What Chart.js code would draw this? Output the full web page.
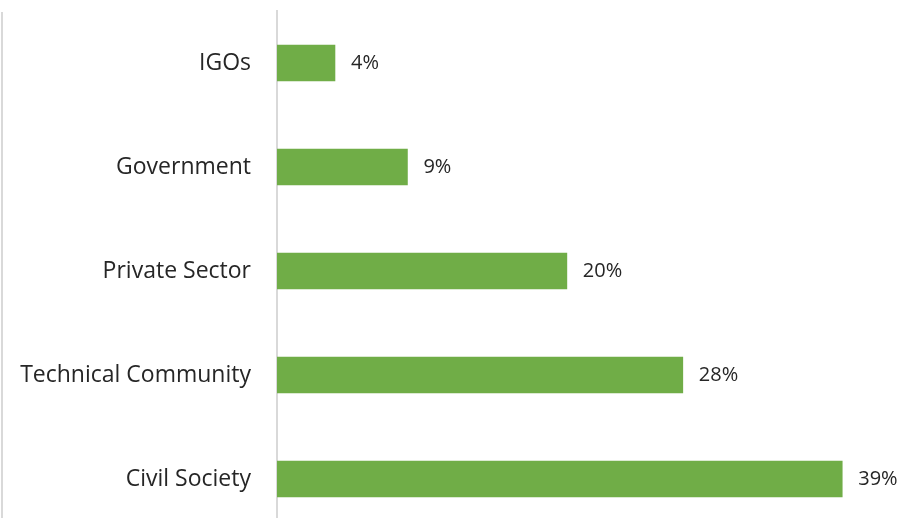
<!DOCTYPE html>
<html>
<head>
<meta charset="utf-8">
<script src="https://cdn.jsdelivr.net/npm/chart.js@4.4.1/dist/chart.umd.min.js"></script>
<style>
  html, body { margin: 0; padding: 0; background: #fff; overflow: hidden; }
  #wrap { position: relative; width: 906px; height: 540px; }
  #edge { position: absolute; left: 1px; top: 12px; width: 2px; height: 530px; background: #d9d9d9; }
</style>
</head>
<body>
<div id="wrap">
  <div id="edge"></div>
  <canvas id="myBars" width="906" height="540"></canvas>
</div>
<script>
const categories = ["IGOs", "Government", "Private Sector", "Technical Community", "Civil Society"];
const shares = [4, 9, 20, 28, 39];

const fontFamily = "'Open Sans', 'Noto Sans', sans-serif";

// draws the % value just right of every bar
const valueLabels = {
  id: "valueLabels",
  afterDatasetsDraw(chart) {
    const ctx = chart.ctx;
    const meta = chart.getDatasetMeta(0);
    ctx.save();
    ctx.font = "20px " + fontFamily;
    ctx.fillStyle = "#262626";
    ctx.textAlign = "left";
    ctx.textBaseline = "middle";
    meta.data.forEach((bar, i) => {
      ctx.fillText(shares[i] + "%", bar.x + 16, bar.y);
    });
    ctx.restore();
  }
};

const ctx = document.getElementById("myBars");

new Chart(ctx, {
  type: "bar",
  data: {
    labels: categories,
    datasets: [
      {
        data: shares,
        backgroundColor: "#70AD47",
        borderWidth: 0,
        barThickness: 36,
      },
    ],
  },
  options: {
    indexAxis: "y",
    responsive: false,
    animation: false,
    layout: { padding: { top: 11, bottom: 9, left: 0, right: 0 } },
    plugins: {
      legend: { display: false },
      tooltip: { enabled: false },
    },
    scales: {
      x: {
        display: false,
        min: 0,
        max: 43.4,
      },
      y: {
        afterFit(scale) {
          scale.width = 277;
          scale.paddingTop = 0;
          scale.paddingBottom = 0;
        },
        grid: { drawOnChartArea: false, drawTicks: false, color: "transparent" },
        border: { display: true, color: "#d9d9d9", width: 2 },
        ticks: {
          padding: 26,
          color: "#262626",
          font: { family: fontFamily, size: 23 },
        },
      },
    },
  },
  plugins: [valueLabels],
});
</script>
</body>
</html>
